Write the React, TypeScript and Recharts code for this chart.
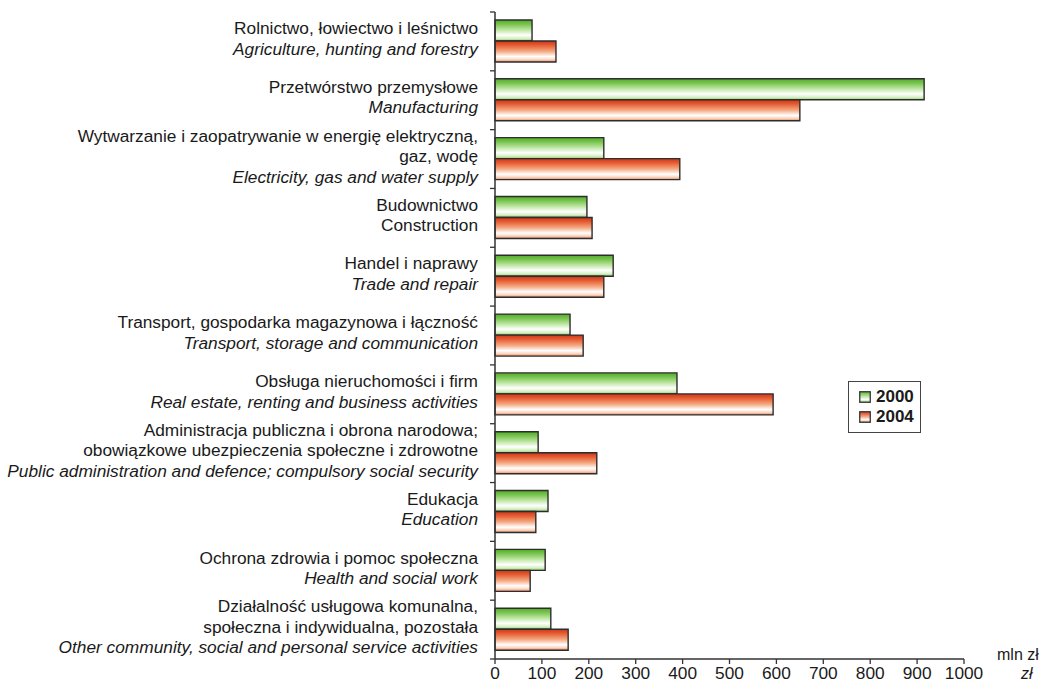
import React from "react";
import { BarChart, Bar, XAxis, YAxis } from "recharts";

const plLines: string[][] = [
  ["Rolnictwo, łowiectwo i leśnictwo"],
  ["Przetwórstwo przemysłowe"],
  ["Wytwarzanie i zaopatrywanie w energię elektryczną,", "gaz, wodę"],
  ["Budownictwo"],
  ["Handel i naprawy"],
  ["Transport, gospodarka magazynowa i łączność"],
  ["Obsługa nieruchomości i firm"],
  ["Administracja publiczna i obrona narodowa;", "obowiązkowe ubezpieczenia społeczne i zdrowotne"],
  ["Edukacja"],
  ["Ochrona zdrowia i pomoc społeczna"],
  ["Działalność usługowa komunalna,", "społeczna i indywidualna, pozostała"],
];
const enLabels: string[] = [
  "Agriculture, hunting and forestry",
  "Manufacturing",
  "Electricity, gas and water supply",
  "Construction",
  "Trade and repair",
  "Transport, storage and communication",
  "Real estate, renting and business activities",
  "Public administration and defence; compulsory social security",
  "Education",
  "Health and social work",
  "Other community, social and personal service activities",
];
const enItalic: boolean[] = [true, true, true, false, true, true, true, true, true, true, true];
const values2000: number[] = [79, 915, 232, 196, 252, 160, 388, 92, 113, 107, 119];
const values2004: number[] = [130, 650, 394, 207, 232, 188, 593, 217, 87, 75, 156];
const xTicks: number[] = [0, 100, 200, 300, 400, 500, 600, 700, 800, 900, 1000];
const seriesNames: string[] = ["2000", "2004"];

const data = plLines.map((pl, i) => ({
  id: String(i),
  v2000: values2000[i],
  v2004: values2004[i],
}));

const W = 1042;
const H = 685;
const TOP = 12;
const BOTTOM_AXIS = 26;
const LEFT_W = 495;
const RIGHT_M = 78;
const BAND = (H - TOP - BOTTOM_AXIS) / plLines.length;
const FONT = "'Liberation Sans', Arial, sans-serif";
const FS = 17.3;

const YTick = (props: any) => {
  const { y, payload } = props;
  const i = Number(payload.value);
  const lines: { t: string; it: boolean }[] = plLines[i].map((t) => ({ t, it: false }));
  lines.push({ t: enLabels[i], it: enItalic[i] });
  const lh = 20.5;
  const start = y - ((lines.length - 1) * lh) / 2 - 3;
  return (
    <g>
      <line x1={LEFT_W - 5} x2={LEFT_W} y1={y - BAND / 2} y2={y - BAND / 2} stroke="#333" strokeWidth={1.3} />
      {i === plLines.length - 1 && (
        <line x1={LEFT_W - 5} x2={LEFT_W} y1={y + BAND / 2} y2={y + BAND / 2} stroke="#333" strokeWidth={1.3} />
      )}
      {lines.map((l, k) => (
        <text
          key={k}
          x={478}
          y={start + k * lh}
          textAnchor="end"
          dominantBaseline="central"
          fontFamily={FONT}
          fontSize={FS}
          fontStyle={l.it ? "italic" : "normal"}
          fill="#1a1a1a"
        >
          {l.t}
        </text>
      ))}
    </g>
  );
};

const XTick = (props: any) => {
  const { x, y, payload } = props;
  return (
    <text x={x} y={y + 7} textAnchor="middle" dominantBaseline="central" fontFamily={FONT} fontSize={FS} fill="#1a1a1a">
      {payload.value}
    </text>
  );
};

const LegendBox = () => (
  <div
    style={{
      position: "absolute",
      left: 848,
      top: 381,
      border: "1.5px solid #444",
      width: 73,
      height: 52,
      boxSizing: "border-box",
      padding: "5px 0 0 10px",
      fontFamily: FONT,
      fontWeight: "bold",
      fontSize: 17,
      color: "#1a1a1a",
      background: "#fff",
    }}
  >
    {seriesNames.map((n, k) => (
      <div key={n} style={{ display: "flex", alignItems: "center", height: 20 }}>
        <svg width={12} height={12} style={{ marginRight: 5 }}>
          <rect x={0.75} y={0.75} width={10.5} height={10.5} fill={k === 0 ? "url(#gGreenL)" : "url(#gRedL)"} stroke="#333" strokeWidth={1.3} />
        </svg>
        <span>{n}</span>
      </div>
    ))}
  </div>
);

export default function App() {
  return (
    <div style={{ position: "absolute", left: 0, top: 0, width: W, height: H, background: "#fff" }}>
      <svg width={0} height={0} style={{ position: "absolute" }}>
        <defs>
          <linearGradient id="gGreenL" x1="0" y1="0" x2="0" y2="1">
            <stop offset="0" stopColor="#5db535" />
            <stop offset="0.45" stopColor="#bde6a0" />
            <stop offset="0.75" stopColor="#ffffff" />
            <stop offset="1" stopColor="#9ad27a" />
          </linearGradient>
          <linearGradient id="gRedL" x1="0" y1="0" x2="0" y2="1">
            <stop offset="0" stopColor="#d63a22" />
            <stop offset="0.45" stopColor="#f4a47a" />
            <stop offset="0.75" stopColor="#ffffff" />
            <stop offset="1" stopColor="#ef9a72" />
          </linearGradient>
        </defs>
      </svg>
      <BarChart
        width={W}
        height={H}
        data={data}
        layout="vertical"
        margin={{ top: TOP, right: RIGHT_M, bottom: 0, left: 0 }}
        barCategoryGap={8}
        barGap={0}
      >
        <defs>
          <linearGradient id="gGreen" x1="0" y1="0" x2="0" y2="1">
            <stop offset="0" stopColor="#52ab2a" />
            <stop offset="0.2" stopColor="#78c44e" />
            <stop offset="0.5" stopColor="#c5e9ac" />
            <stop offset="0.72" stopColor="#ffffff" />
            <stop offset="0.88" stopColor="#d6f0c4" />
            <stop offset="1" stopColor="#8fcc6a" />
          </linearGradient>
          <linearGradient id="gRed" x1="0" y1="0" x2="0" y2="1">
            <stop offset="0" stopColor="#cc361b" />
            <stop offset="0.2" stopColor="#e65c32" />
            <stop offset="0.5" stopColor="#f5ab84" />
            <stop offset="0.74" stopColor="#ffffff" />
            <stop offset="0.88" stopColor="#fbd7c2" />
            <stop offset="1" stopColor="#e98a62" />
          </linearGradient>
        </defs>
        <XAxis
          type="number"
          domain={[0, 1000]}
          ticks={xTicks}
          interval={0}
          height={BOTTOM_AXIS}
          axisLine={{ stroke: "#333", strokeWidth: 1.5 }}
          tickLine={{ stroke: "#333", strokeWidth: 1.3 }}
          tickSize={5}
          tick={<XTick />}
        />
        <YAxis
          type="category"
          dataKey="id"
          width={LEFT_W}
          axisLine={{ stroke: "#333", strokeWidth: 1.5 }}
          tickLine={false}
          interval={0}
          tick={<YTick />}
        />
        <Bar dataKey="v2000" name="2000" fill="url(#gGreen)" stroke="#2d2d2d" strokeWidth={1.4} isAnimationActive={false} />
        <Bar dataKey="v2004" name="2004" fill="url(#gRed)" stroke="#2d2d2d" strokeWidth={1.4} isAnimationActive={false} />
      </BarChart>
      <LegendBox />
      <div style={{ position: "absolute", left: 997, top: 646, fontFamily: FONT, fontSize: 16, lineHeight: "18px", color: "#1a1a1a", whiteSpace: "nowrap" }}>
        mln zł
      </div>
      <div style={{ position: "absolute", left: 1021, top: 665, fontFamily: FONT, fontSize: 16, lineHeight: "18px", fontStyle: "italic", color: "#1a1a1a", whiteSpace: "nowrap" }}>
        zł
      </div>
    </div>
  );
}
